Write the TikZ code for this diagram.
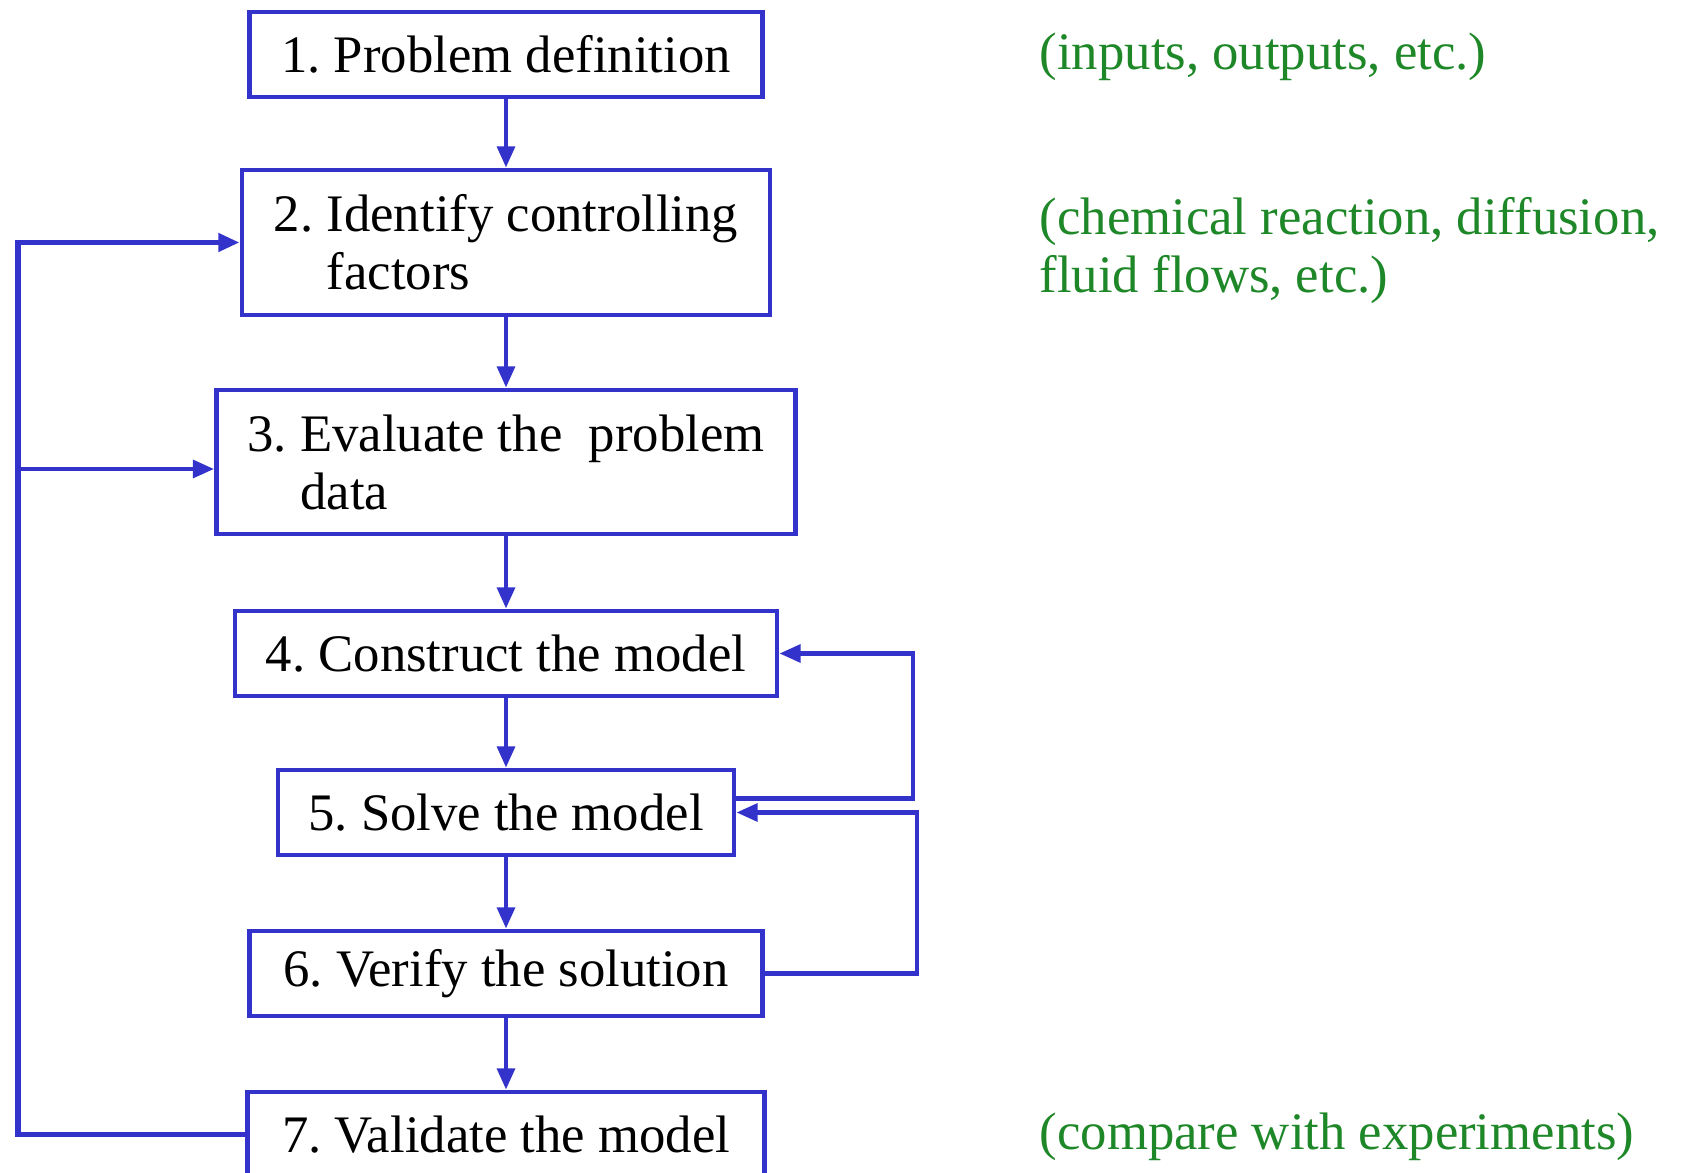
\documentclass[tikz,border=0pt]{standalone}
\usepackage{fontspec}
\setmainfont{Liberation Serif}
\usepackage{xcolor}
\usetikzlibrary{arrows.meta}
\definecolor{boxblue}{RGB}{51,51,204}
\definecolor{notegreen}{RGB}{30,135,40}
\frenchspacing

\begin{document}
\begin{tikzpicture}[
  stage/.style={draw=boxblue,line width=1.4pt,align=left,inner sep=0pt,font=\fontsize{15}{16.5}\selectfont},
  flow/.style={boxblue,line width=1.2pt,-{Triangle[length=6pt,width=5pt]}},
  note/.style={notegreen,anchor=west,align=left,inner sep=0pt,font=\fontsize{15}{16.5}\selectfont}]
\useasboundingbox (0,0) rectangle (16.86,-11.73);
% the seven steps
\node[stage,minimum width=5.13cm,minimum height=0.85cm] (p1) at (5.06,-0.545) {1. Problem definition};
\node[stage,minimum width=5.28cm,minimum height=1.45cm] (p2) at (5.06,-2.425) {2. Identify controlling\\\hphantom{2. }factors};
\node[stage,minimum width=5.79cm,minimum height=1.44cm] (p3) at (5.06,-4.62) {3. Evaluate the\ \ problem\\\hphantom{3. }data};
\node[stage,minimum width=5.42cm,minimum height=0.85cm] (p4) at (5.06,-6.535) {4. Construct the model};
\node[stage,minimum width=4.56cm,minimum height=0.85cm] (p5) at (5.06,-8.125) {5. Solve the model};
\node[stage,minimum width=5.13cm,minimum height=0.85cm] (p6) at (5.06,-9.735) {6. Verify the solution};
\node[stage,minimum width=5.17cm,minimum height=0.85cm] (p7) at (5.06,-11.345) {7. Validate the model};
% comments
\node[note] (n1) at (10.39,-0.57) {(inputs, outputs, etc.)};
\node[note] (n2) at (10.39,-2.51) {(chemical reaction, diffusion,\\fluid flows, etc.)};
\node[note] (n7) at (10.39,-11.37) {(compare with experiments)};
% straight down
\draw[flow] (p1) -- (p2);
\draw[flow] (p2) -- (p3);
\draw[flow] (p3) -- (p4);
\draw[flow] (p4) -- (p5);
\draw[flow] (p5) -- (p6);
\draw[flow] (p6) -- (p7);
% feedback loops
\coordinate (lx) at (0.18,0);
\coordinate (r1) at (9.13,0);
\coordinate (r2) at (9.17,0);
\draw[flow,line width=1.5pt] (p7.west) -- (p7.west -| lx) |- (p2.west);
\draw[flow] ([yshift=-0.07cm]p3.west -| lx) -- ([yshift=-0.07cm]p3.west);
\draw[flow] ([yshift=0.14cm]p5.east) -- ([yshift=0.14cm]p5.east -| r1) |- (p4.east);
\draw[flow] (p6.east) -- (p6.east -| r2) |- (p5.east);
\end{tikzpicture}
\end{document}
